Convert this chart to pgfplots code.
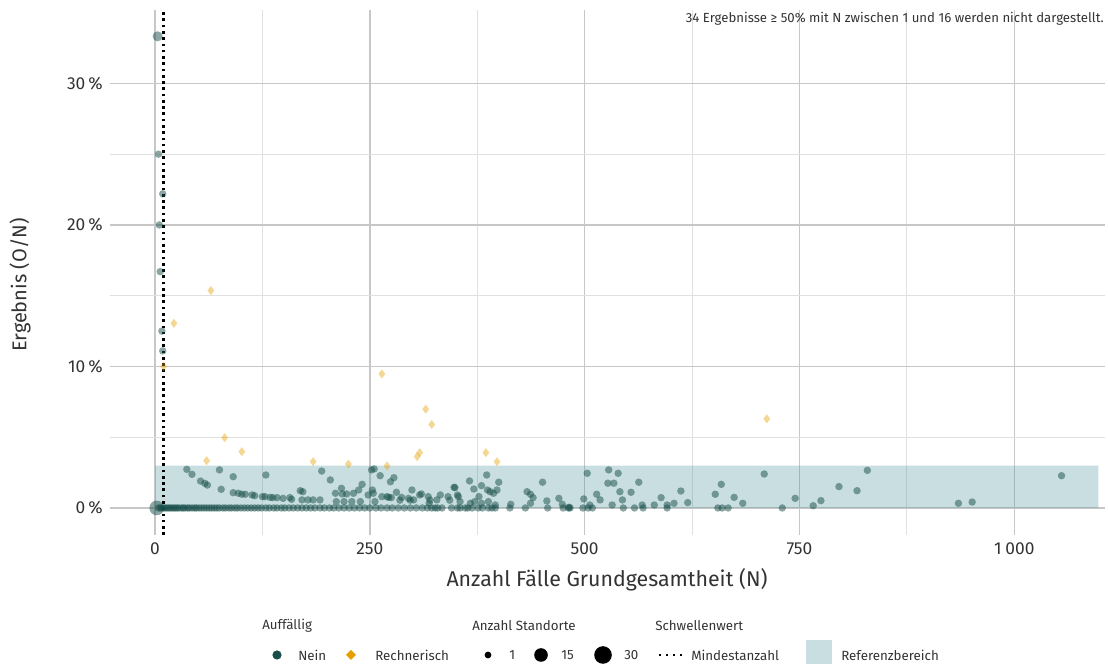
\documentclass[border=0pt]{standalone}
\usepackage{pgfplots}
\pgfplotsset{compat=1.18}
\usepackage{fontspec}
\setmainfont{Fira Sans}
\definecolor{nein}{HTML}{184E4A}
\definecolor{rech}{HTML}{E69F00}
\definecolor{refb}{RGB}{75,145,152}
\definecolor{txt}{HTML}{333333}

\begin{document}
\begin{tikzpicture}[x=0.75pt,y=0.75pt]
\path[use as bounding box] (0,0) rectangle (1108,664);
\begin{axis}[
  at={(82.5pt,96.75pt)}, anchor=south west,
  scale only axis,
  width=746.25pt, height=393.75pt,
  xmin=-52.4, xmax=1105.6,
  ymin=-1.91, ymax=35.19,
  axis line style={draw=none},
  tick style={draw=none},
  grid=both,
  minor x tick num=1,
  minor y tick num=1,
  major grid style={color=black!22, line width=1pt},
  minor grid style={color=black!12, line width=0.8pt},
  xtick={0,250,500,750,1000},
  xticklabels={0,250,500,750,1\:000},
  ytick={0,10,20,30},
  yticklabels={0\,\%,10\,\%,20\,\%,30\,\%},
  ticklabel style={font=\fontsize{13}{15}\selectfont, text=txt},
  xticklabel style={yshift=-2pt},
  yticklabel style={xshift=-2pt},
  xlabel={Anzahl Fälle Grundgesamtheit (N)},
  ylabel={Ergebnis (O/N)},
  every axis x label/.style={at={(axis description cs:0.4995,-0.0857)}, anchor=center, font=\fontsize{16}{18}\selectfont, text=txt},
  every axis y label/.style={at={(axis description cs:-0.0905,0.476)}, anchor=center, rotate=90, font=\fontsize{15}{17}\selectfont, text=txt},
  nein/.style={only marks, mark=*, color=nein, mark options={draw opacity=0, fill=nein, fill opacity=0.5}},
]
% Referenzbereich
\addplot[draw=none, fill=refb, fill opacity=0.3] coordinates {(0,0) (0,3) (1098,3) (1098,0) (0,0)};
% Mindestanzahl
\addplot[black, line width=2pt, dash pattern=on 2pt off 2.7pt] coordinates {(10,-1.91) (10,35.19)};

% Nein, Ergebnis 0
\addplot[nein, mark size=2.8pt] coordinates {
(4,0) (6,0) (8,0) (10,0) (12,0) (14,0) (16,0) (18,0) (20,0) (22,0) (24,0) (26,0) (28,0) (31,0) (33,0) (35,0)
(38,0) (40,0) (43,0) (46,0) (48,0) (51,0) (54,0) (57,0) (60,0) (63,0) (66,0) (69,0) (72,0) (75,0) (79,0) (82,0)
(86,0) (89,0) (93,0) (96,0) (100,0) (104,0) (108,0) (112,0) (116,0) (120,0) (124,0) (129,0) (133,0) (138,0)
(142,0) (147,0) (151,0) (156,0) (161,0) (166,0) (171,0) (176,0) (181,0) (186,0) (192,0) (197,0) (203,0) (208,0)
(214,0) (220,0) (226,0) (232,0) (238,0) (244,0) (250,0) (257,0) (263,0) (270,0) (276,0) (283,0) (290,0) (297,0)
(304,0) (311,0) (317,0) (322,0) (326,0) (329,0) (334,0) (345,0) (352,0) (355,0) (361,0) (364,0) (369,0) (376,0)
(381,0) (388,0) (392,0) (396,0) (413,0) (431,0) (457,0) (475,0) (481,0) (483,0) (498,0) (504,0) (509,0) (545,0)
(558,0) (568,0) (596,0) (655,0) (660,0) (667,0) (730,0)
};
% Nein, Ergebnis > 0
\addplot[nein, mark size=2.8pt] coordinates {
(4,25.0) (9,22.2) (5,20.0) (6,16.7) (8,12.5) (9,11.1)
(37,2.73) (43,2.38) (53,1.9) (58,1.74) (61,1.62) (75,2.69) (77,1.32) (91,2.21) (91,1.08) (97,1.04) (101,0.97)
(105,0.97) (113,0.92) (116,0.87) (125,0.8) (128,0.8) (129,2.33) (134,0.75) (137,0.73) (142,0.73) (149,0.68)
(157,0.73) (159,0.61) (169,1.22) (172,1.15) (171,0.57) (178,0.57) (184,0.57) (192,0.57) (194,2.61) (204,1.98)
(210,1.04) (211,0.45) (217,1.39) (218,0.99) (220,0.45) (223,0.99) (229,0.45) (231,1.04) (237,1.27) (239,0.45)
(241,1.67) (248,0.92) (252,2.69) (255,2.76) (253,1.27) (254,1.04) (256,0.45) (262,2.28) (264,0.8) (270,0.8)
(272,0.75) (274,1.85) (278,2.14) (275,0.73) (281,1.11) (287,0.75) (285,0.55) (295,0.68) (297,0.55) (299,1.27)
(301,0.57) (308,0.92) (310,0.99) (318,0.8) (319,0.33) (320,0.55) (328,0.57) (332,0.92) (341,0.8) (343,0.55)
(348,1.46) (352,0.92) (349,1.44) (353,0.8) (355,0.45) (366,1.91) (367,0.33) (371,1.34) (372,0.45) (377,0.8)
(380,1.58) (380,0.33) (386,2.33) (387,1.27) (388,0.45) (390,1.15) (394,1.04) (396,0.21) (398,1.27) (400,1.82)
(414,0.26) (433,1.15) (437,0.97) (437,0.33) (440,0.73) (451,1.82) (456,0.5) (470,0.68) (474,0.26) (482,0.05)
(499,0.64) (503,2.45) (506,0.21) (514,0.97) (518,0.57) (527,1.75) (528,2.69) (532,0.21) (534,1.75) (539,2.45)
(541,1.15) (544,0.57) (554,1.11) (563,1.82) (567,0.21) (581,0.21) (589,0.73) (596,0.21) (604,0.33) (612,1.2)
(620,0.38) (652,0.97) (659,1.67) (674,0.75) (684,0.33) (709,2.4) (745,0.68) (766,0.16) (775,0.52) (796,1.51)
(817,1.22) (829,2.66) (935,0.33) (951,0.42) (1055,2.28)
};
% Nein, mehrere Standorte
\addplot[nein, mark size=3.8pt] coordinates {(3,33.33)};
\addplot[nein, mark size=5.5pt] coordinates {(2,0)};

% Rechnerisch
\addplot[only marks, mark=diamond*, mark size=3.4pt, color=rech, mark options={draw opacity=0, fill=rech, fill opacity=0.42}] coordinates {
(65,15.36) (22,13.05) (10,10.0) (264,9.47) (315,6.98) (322,5.9) (81,4.97) (101,3.98) (60,3.34) (184,3.27)
(225,3.1) (270,2.97) (305,3.63) (308,3.91) (385,3.91) (398,3.27) (712,6.3)
};
\end{axis}

% Hinweis
\node[anchor=east, text=txt, font=\fontsize{9.9}{11}\selectfont, inner sep=0pt] at (1104,645) {34 Ergebnisse ≥ 50\% mit N zwischen 1 und 16 werden nicht dargestellt.};

% Legende
\begin{scope}[every node/.style={anchor=west, inner sep=0pt, text=txt, font=\fontsize{10}{12}\selectfont}]
\node at (262,38) {Auffällig};
\fill[nein] (277,9) circle (4.6);
\node at (298,9) {Nein};
\fill[rech] (351,14) -- (356,9) -- (351,4) -- (346,9) -- cycle;
\node at (375,9) {Rechnerisch};

\node at (472,38) {Anzahl Standorte};
\fill[black] (488,9) circle (3.4);
\node at (509,9) {1};
\fill[black] (541,9) circle (6.8);
\node at (561,9) {15};
\fill[black] (603,9) circle (8.8);
\node at (624,9) {30};

\node at (655,38) {Schwellenwert};
\draw[black, line width=1.3pt, dash pattern=on 1.3pt off 4pt] (659,9) -- (683,9);
\node at (691,9) {Mindestanzahl};

\fill[refb, fill opacity=0.3] (806,0) rectangle (832,24);
\node at (841,9) {Referenzbereich};
\end{scope}
\end{tikzpicture}
\end{document}
